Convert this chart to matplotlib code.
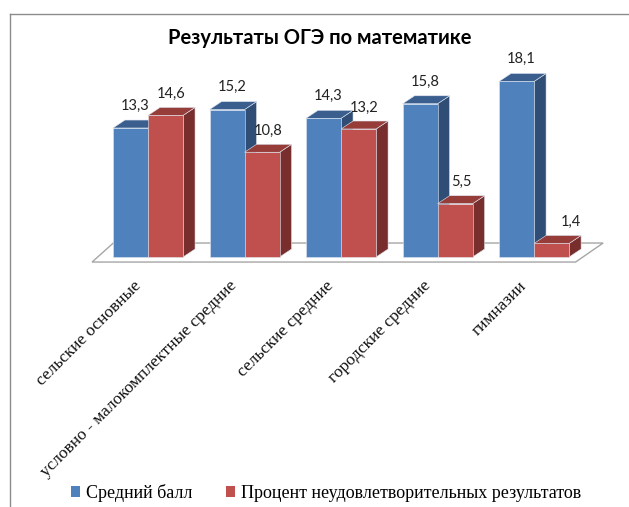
import matplotlib.pyplot as plt
from matplotlib.patches import Polygon, Patch
from matplotlib.lines import Line2D

# Data
categories = ['сельские основные', 'условно - малокомплектные средние',
              'сельские средние', 'городские средние', 'гимназии']
avg_score = [13.3, 15.2, 14.3, 15.8, 18.1]
fail_pct = [14.6, 10.8, 13.2, 5.5, 1.4]
avg_labels = ['13,3', '15,2', '14,3', '15,8', '18,1']
fail_labels = ['14,6', '10,8', '13,2', '5,5', '1,4']
series_names = ['Средний балл', 'Процент неудовлетворительных результатов']

# Colors (front, top, side)
blue = ('#4f81bd', '#3a5f8e', '#2f4d75')
red = ('#c0504d', '#963d3a', '#782e2c')

W = 0.363      # bar width (category units)
DX = 0.124     # depth offset x
DY = 0.82      # depth offset y


def bar3d(ax, x0, h, colors):
    x1 = x0 + W
    front = Polygon([(x0, 0), (x1, 0), (x1, h), (x0, h)], closed=True,
                    facecolor=colors[0], edgecolor='#dfe6f0', lw=0.4, zorder=3)
    top = Polygon([(x0, h), (x1, h), (x1 + DX, h + DY), (x0 + DX, h + DY)],
                  closed=True, facecolor=colors[1], edgecolor='#dfe6f0', lw=0.4, zorder=3)
    side = Polygon([(x1, 0), (x1 + DX, DY), (x1 + DX, h + DY), (x1, h)],
                   closed=True, facecolor=colors[2], edgecolor='#dfe6f0', lw=0.4, zorder=3)
    for p in (side, top, front):
        ax.add_patch(p)


fig = plt.figure(figsize=(6.29, 5.07), dpi=100)
ax = fig.add_axes([80 / 629, 250 / 507, 540 / 629, 194 / 507])
ax.set_xlim(-0.705, 4.89)
ax.set_ylim(0, 20)
ax.axis('off')

# floor
floor = Polygon([(-0.58, -0.52), (-0.36, 1.44), (4.715, 1.44), (4.43, -0.52)],
                closed=True, facecolor='white', edgecolor='#a6a6a6', lw=1.0,
                zorder=1, clip_on=False)
ax.add_patch(floor)

for i in range(len(categories)):
    bar3d(ax, i - W, avg_score[i], blue)
    bar3d(ax, i, fail_pct[i], red)
    ax.text(i - W / 2 + 0.05, avg_score[i] + 2.3, avg_labels[i], ha='center', va='center',
            fontsize=10.5, family='Lato', color='#222222', zorder=5)
    # the smallest value label sits further right in the original
    xoff = 0.2 if fail_pct[i] < 3 else 0.06
    ax.text(i + W / 2 + xoff, fail_pct[i] + 2.2, fail_labels[i], ha='center', va='center',
            fontsize=10.5, family='Lato', color='#222222', zorder=5)
    ax.text(i - 0.1, -2.75, categories[i], rotation=45, rotation_mode='anchor',
            ha='right', va='center', fontsize=12.5, family='Liberation Serif',
            color='#111111')

for p in ax.patches:
    p.set_clip_on(False)

fig.text(320 / 629, 1 - 38 / 507, 'Результаты ОГЭ по математике', ha='center',
         va='center', fontsize=14.5, fontweight='bold', family='Lato', color='black')

# frame lines
fig.add_artist(Line2D([10 / 629, 1], [1 - 14 / 507, 1 - 14 / 507], color='#8c8c8c', lw=1.0))
fig.add_artist(Line2D([10 / 629, 10 / 629], [1 - 14 / 507, 0], color='#8c8c8c', lw=1.0))

handles = [Patch(facecolor=blue[0]), Patch(facecolor=red[0])]
fig.legend(handles, series_names, loc='center', bbox_to_anchor=(326 / 629, 1 - 493 / 507),
           ncol=2, frameon=False, handlelength=0.5, handleheight=0.5, handletextpad=0.3,
           columnspacing=1.9, prop={'family': 'Liberation Serif', 'size': 13})

fig.savefig('out.png', dpi=100)
